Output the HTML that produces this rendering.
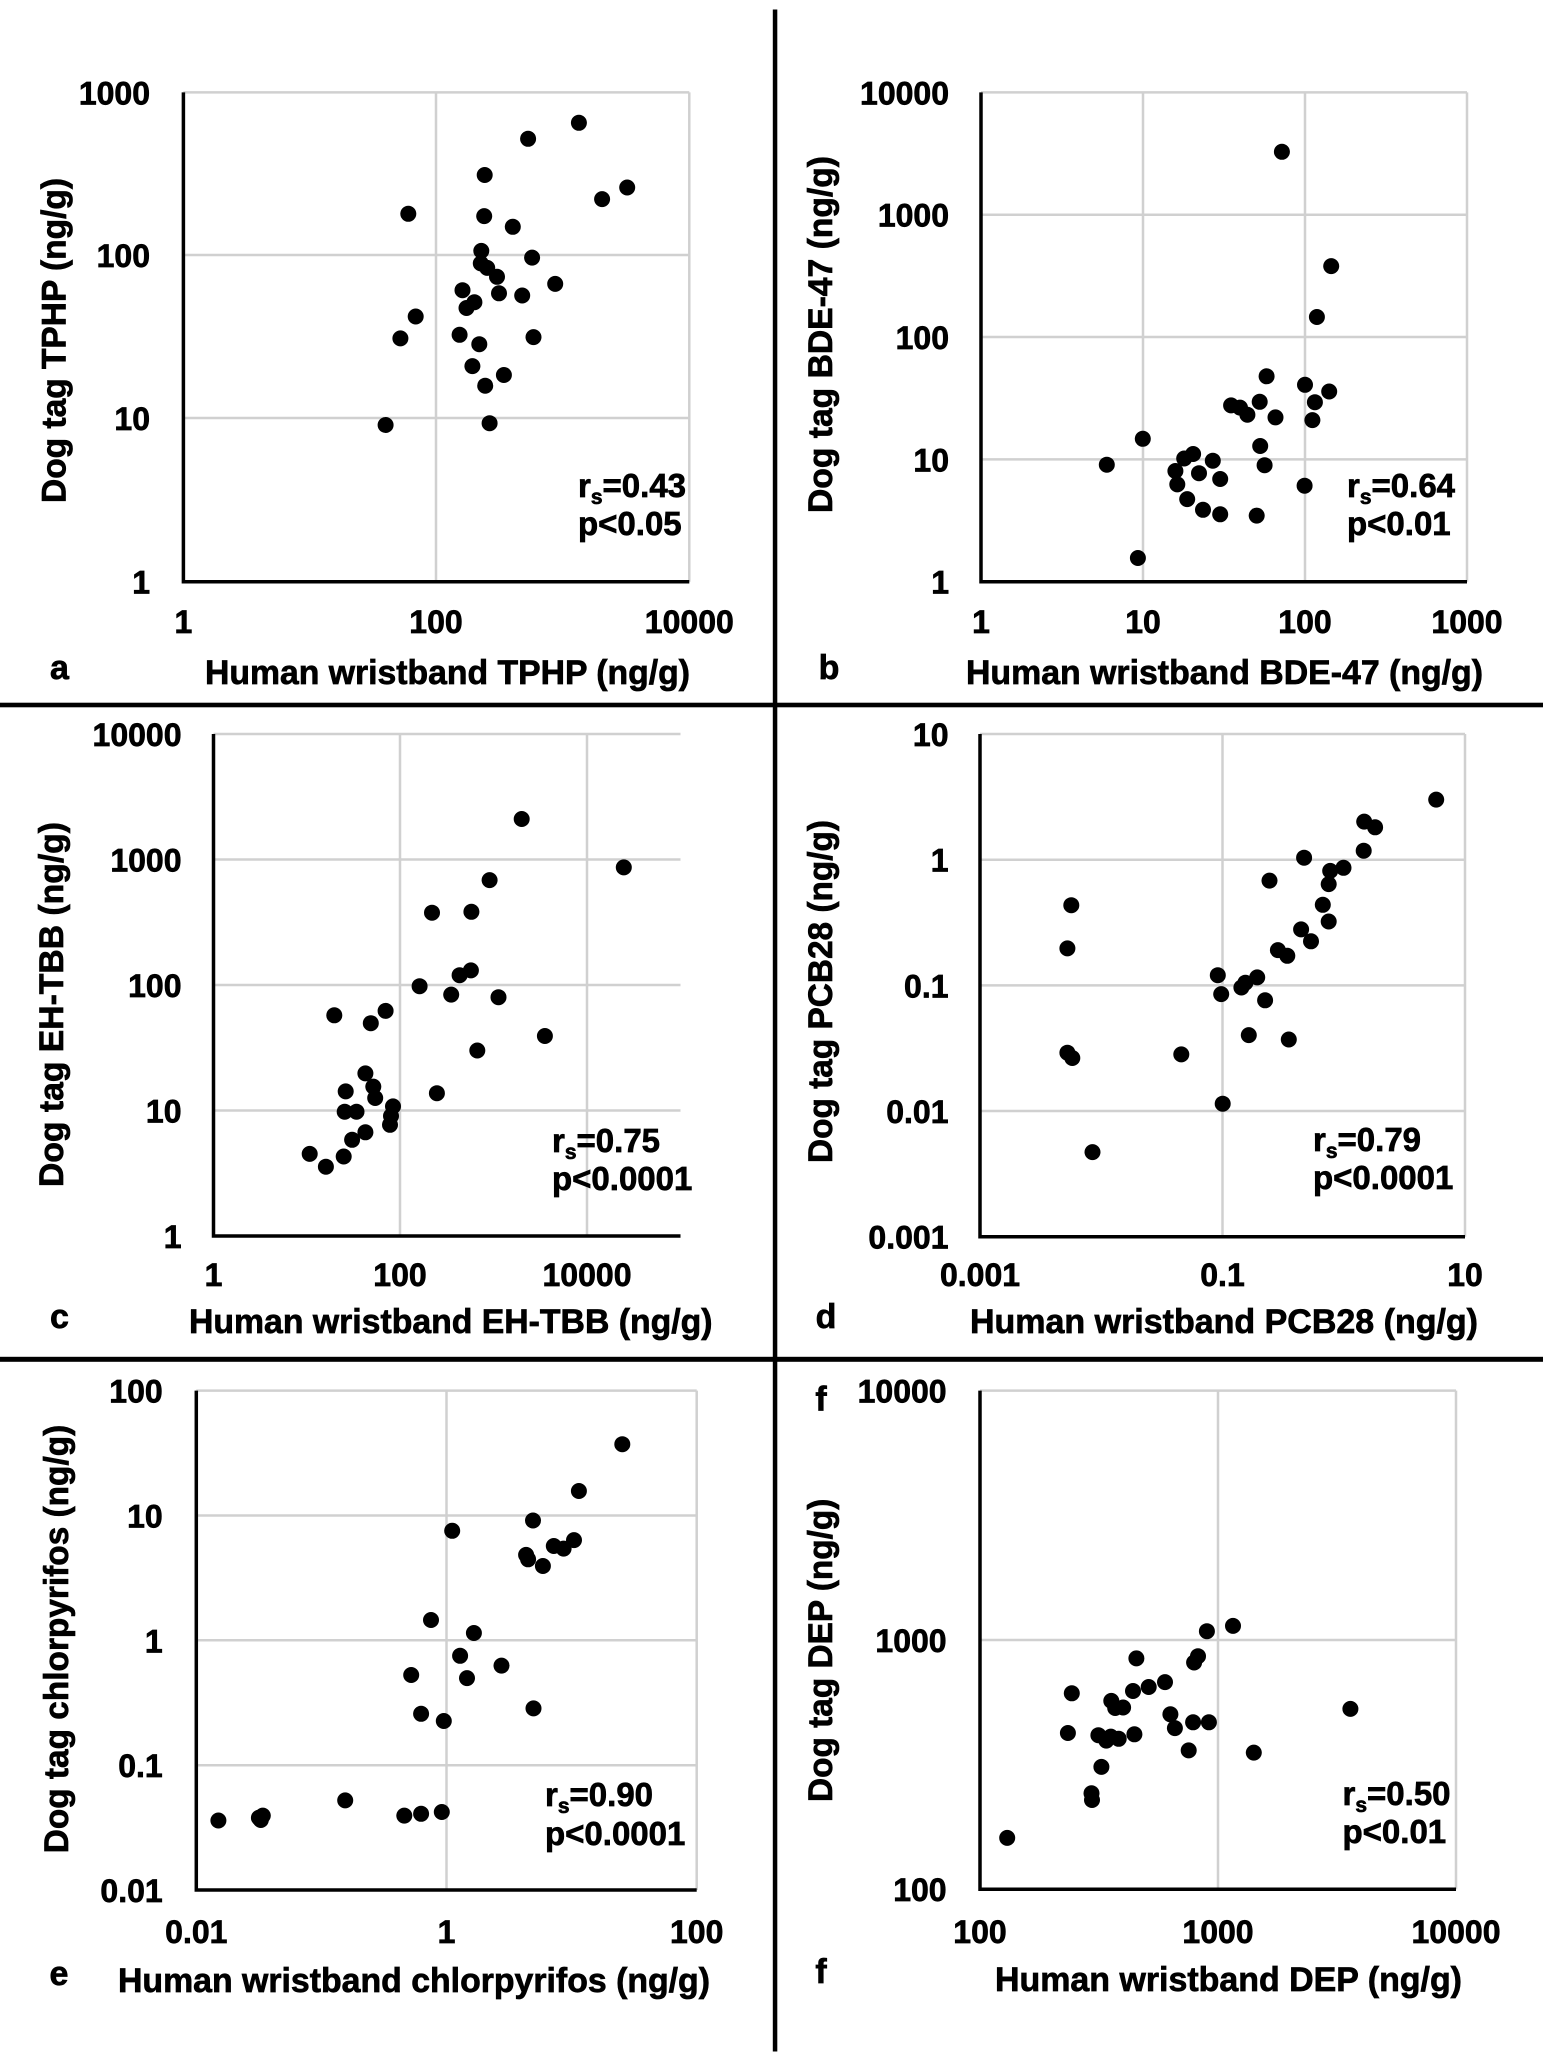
<!DOCTYPE html>
<html><head><meta charset="utf-8"><style>
html,body{margin:0;padding:0;background:#fff;}
svg{display:block;}
text{font-family:"Liberation Sans",Arial,sans-serif;font-weight:bold;fill:#000;stroke:#000;stroke-width:0.7px;}
.t{font-size:32px;stroke-width:0.8px;}
.ttl{font-size:34px;}
.rs{font-size:33px;}
.g{stroke:#d0d0d0;stroke-width:2.5;fill:none;}
.ax{stroke:#000;stroke-width:3.5;fill:none;}
circle{fill:#000;}
</style></head><body>
<svg width="1546" height="2058" viewBox="0 0 1546 2058" xmlns="http://www.w3.org/2000/svg">
<rect x="0" y="0" width="1546" height="2058" fill="#fff"/>

<!-- dividers -->
<rect x="772.8" y="9.5" width="4.5" height="2042" fill="#000"/>
<rect x="0" y="702.7" width="1543" height="4.6" fill="#000"/>
<rect x="0" y="1356.8" width="1543" height="5" fill="#000"/>

<!-- ================= Panel a ================= -->
<g>
<path class="g" d="M183.4 92.4H689.3 M183.4 255H689.3 M183.4 418H689.3 M436 92.4V581.7 M689.3 92.4V581.7"/>
<path class="ax" d="M183.4 92.4V583.4 M181.7 581.7H689.3"/>
<g class="t" text-anchor="end">
<text x="150" y="104.4">1000</text><text x="150" y="267">100</text><text x="150" y="430">10</text><text x="150" y="593.7">1</text>
</g>
<g class="t" text-anchor="middle">
<text x="183.4" y="633">1</text><text x="436" y="633">100</text><text x="689.3" y="633">10000</text>
</g>
<text class="ttl" x="59.5" y="679" text-anchor="middle">a</text>
<text class="ttl" x="205" y="684" textLength="485" lengthAdjust="spacingAndGlyphs">Human wristband TPHP (ng/g)</text>
<text class="ttl" transform="translate(65.5,340.5) rotate(-90)" text-anchor="middle" textLength="325" lengthAdjust="spacingAndGlyphs">Dog tag TPHP (ng/g)</text>
<text class="rs" x="578" y="497">r<tspan font-size="21" dy="7">s</tspan><tspan dy="-7">=0.43</tspan></text>
<text class="rs" x="578" y="535">p&lt;0.05</text>
<g>
<circle cx="578.9" cy="122.8" r="8"/><circle cx="528.1" cy="138.8" r="8"/><circle cx="484.7" cy="175" r="8"/>
<circle cx="627.2" cy="187.5" r="8"/><circle cx="602.1" cy="199.1" r="8"/><circle cx="408.3" cy="213.8" r="8"/>
<circle cx="484.2" cy="216.1" r="8"/><circle cx="512.8" cy="226.8" r="8"/><circle cx="481.3" cy="250.9" r="8"/>
<circle cx="532.1" cy="257.6" r="8"/><circle cx="480.8" cy="263.4" r="8"/><circle cx="487.2" cy="267.9" r="8"/>
<circle cx="497" cy="276.8" r="8"/><circle cx="555.2" cy="283.9" r="8"/><circle cx="462.5" cy="290.2" r="8"/>
<circle cx="499" cy="293.3" r="8"/><circle cx="522.2" cy="295.5" r="8"/><circle cx="474.4" cy="302.2" r="8"/>
<circle cx="466.5" cy="308" r="8"/><circle cx="415.7" cy="316.5" r="8"/><circle cx="400.4" cy="338.4" r="8"/>
<circle cx="459.6" cy="334.8" r="8"/><circle cx="533.5" cy="337.1" r="8"/><circle cx="479.3" cy="344.2" r="8"/>
<circle cx="472.4" cy="366.1" r="8"/><circle cx="503.9" cy="375" r="8"/><circle cx="485.2" cy="385.7" r="8"/>
<circle cx="385.6" cy="425" r="8"/><circle cx="489.6" cy="423.2" r="8"/>
</g>
</g>

<!-- ================= Panel b ================= -->
<g>
<path class="g" d="M981 92.4H1467 M981 214.7H1467 M981 337H1467 M981 459.4H1467 M1143 92.4V581.7 M1305 92.4V581.7 M1467 92.4V581.7"/>
<path class="ax" d="M981 92.4V583.4 M979.3 581.7H1467"/>
<g class="t" text-anchor="end">
<text x="949" y="104.4">10000</text><text x="949" y="226.7">1000</text><text x="949" y="349">100</text><text x="949" y="471.4">10</text><text x="949" y="593.7">1</text>
</g>
<g class="t" text-anchor="middle">
<text x="981" y="633">1</text><text x="1143" y="633">10</text><text x="1305" y="633">100</text><text x="1467" y="633">1000</text>
</g>
<text class="ttl" x="829" y="679" text-anchor="middle">b</text>
<text class="ttl" x="966" y="684" textLength="517" lengthAdjust="spacingAndGlyphs">Human wristband BDE-47 (ng/g)</text>
<text class="ttl" transform="translate(832,334.5) rotate(-90)" text-anchor="middle" textLength="357" lengthAdjust="spacingAndGlyphs">Dog tag BDE-47 (ng/g)</text>
<text class="rs" x="1347" y="497">r<tspan font-size="21" dy="7">s</tspan><tspan dy="-7">=0.64</tspan></text>
<text class="rs" x="1347" y="535">p&lt;0.01</text>
<g>
<circle cx="1281.9" cy="151.8" r="8"/><circle cx="1331.2" cy="266.1" r="8"/><circle cx="1316.9" cy="317" r="8"/>
<circle cx="1266.6" cy="376.3" r="8"/><circle cx="1305" cy="384.8" r="8"/><circle cx="1329.2" cy="391.5" r="8"/>
<circle cx="1231.1" cy="405.4" r="8"/><circle cx="1240" cy="407.6" r="8"/><circle cx="1247.4" cy="414.7" r="8"/>
<circle cx="1259.7" cy="401.8" r="8"/><circle cx="1314.9" cy="402.2" r="8"/><circle cx="1275.5" cy="417.4" r="8"/>
<circle cx="1312.4" cy="420.1" r="8"/><circle cx="1142.8" cy="438.8" r="8"/><circle cx="1260.2" cy="446" r="8"/>
<circle cx="1193.1" cy="454" r="8"/><circle cx="1184.2" cy="458.5" r="8"/><circle cx="1212.8" cy="460.7" r="8"/>
<circle cx="1106.8" cy="464.7" r="8"/><circle cx="1264.6" cy="465.2" r="8"/><circle cx="1175.4" cy="471" r="8"/>
<circle cx="1199" cy="473.2" r="8"/><circle cx="1220.2" cy="479" r="8"/><circle cx="1177.3" cy="484.4" r="8"/>
<circle cx="1304.6" cy="485.7" r="8"/><circle cx="1187.2" cy="499.1" r="8"/><circle cx="1203" cy="509.8" r="8"/>
<circle cx="1220.2" cy="514.3" r="8"/><circle cx="1256.7" cy="515.6" r="8"/><circle cx="1137.9" cy="558" r="8"/>
</g>
</g>

<!-- ================= Panel c ================= -->
<g>
<path class="g" d="M213.5 734H680.5 M213.5 859.5H680.5 M213.5 985H680.5 M213.5 1110.5H680.5 M400 734V1236 M587 734V1236"/>
<path class="ax" d="M213.5 734V1237.7 M211.8 1236H680.5"/>
<g class="t" text-anchor="end">
<text x="181.5" y="746">10000</text><text x="181.5" y="871.5">1000</text><text x="181.5" y="997">100</text><text x="181.5" y="1122.5">10</text><text x="181.5" y="1248">1</text>
</g>
<g class="t" text-anchor="middle">
<text x="213.5" y="1286">1</text><text x="400" y="1286">100</text><text x="587" y="1286">10000</text>
</g>
<text class="ttl" x="59.5" y="1328" text-anchor="middle">c</text>
<text class="ttl" x="189" y="1333" textLength="523.5" lengthAdjust="spacingAndGlyphs">Human wristband EH-TBB (ng/g)</text>
<text class="ttl" transform="translate(63,1004.5) rotate(-90)" text-anchor="middle" textLength="365" lengthAdjust="spacingAndGlyphs">Dog tag EH-TBB (ng/g)</text>
<text class="rs" x="552" y="1152">r<tspan font-size="21" dy="7">s</tspan><tspan dy="-7">=0.75</tspan></text>
<text class="rs" x="552" y="1190">p&lt;0.0001</text>
<g>
<circle cx="521.7" cy="819" r="8"/><circle cx="623.8" cy="867.4" r="8"/><circle cx="489.6" cy="880.1" r="8"/>
<circle cx="432" cy="912.7" r="8"/><circle cx="471.4" cy="911.8" r="8"/><circle cx="470.9" cy="970.4" r="8"/>
<circle cx="459.6" cy="975.2" r="8"/><circle cx="419.6" cy="986.2" r="8"/><circle cx="451.2" cy="994.6" r="8"/>
<circle cx="498.5" cy="997.2" r="8"/><circle cx="334.3" cy="1015.3" r="8"/><circle cx="385.6" cy="1010.9" r="8"/>
<circle cx="370.8" cy="1023.2" r="8"/><circle cx="544.9" cy="1036" r="8"/><circle cx="477.3" cy="1050.5" r="8"/>
<circle cx="365.4" cy="1073.4" r="8"/><circle cx="373.3" cy="1086.6" r="8"/><circle cx="375.2" cy="1098" r="8"/>
<circle cx="345.7" cy="1091.4" r="8"/><circle cx="436.9" cy="1093.2" r="8"/><circle cx="393" cy="1106.4" r="8"/>
<circle cx="356.5" cy="1111.7" r="8"/><circle cx="344.7" cy="1111.7" r="8"/><circle cx="391" cy="1116" r="8"/>
<circle cx="390" cy="1124.8" r="8"/><circle cx="365.4" cy="1132.3" r="8"/><circle cx="352.1" cy="1139.8" r="8"/>
<circle cx="309.7" cy="1153.9" r="8"/><circle cx="343.7" cy="1156.5" r="8"/><circle cx="325.9" cy="1166.7" r="8"/>
</g>
</g>

<!-- ================= Panel d ================= -->
<g>
<path class="g" d="M980 734H1465 M980 859.7H1465 M980 985.4H1465 M980 1111H1465 M1222.5 734V1236.7 M1465 734V1236.7"/>
<path class="ax" d="M980 734V1238.4 M978.3 1236.7H1465"/>
<g class="t" text-anchor="end">
<text x="948.5" y="746">10</text><text x="948.5" y="871.7">1</text><text x="948.5" y="997.4">0.1</text><text x="948.5" y="1123">0.01</text><text x="948.5" y="1248.7">0.001</text>
</g>
<g class="t" text-anchor="middle">
<text x="980" y="1286">0.001</text><text x="1222.5" y="1286">0.1</text><text x="1465" y="1286">10</text>
</g>
<text class="ttl" x="826" y="1328" text-anchor="middle">d</text>
<text class="ttl" x="970" y="1333" textLength="508" lengthAdjust="spacingAndGlyphs">Human wristband PCB28 (ng/g)</text>
<text class="ttl" transform="translate(832,991.5) rotate(-90)" text-anchor="middle" textLength="343" lengthAdjust="spacingAndGlyphs">Dog tag PCB28 (ng/g)</text>
<text class="rs" x="1313" y="1151">r<tspan font-size="21" dy="7">s</tspan><tspan dy="-7">=0.79</tspan></text>
<text class="rs" x="1313" y="1189">p&lt;0.0001</text>
<g>
<circle cx="1436.2" cy="799.6" r="8"/><circle cx="1364.2" cy="821.6" r="8"/><circle cx="1375.1" cy="827.3" r="8"/>
<circle cx="1363.7" cy="850.7" r="8"/><circle cx="1304.1" cy="857.7" r="8"/><circle cx="1343.5" cy="867.8" r="8"/>
<circle cx="1330.2" cy="870.9" r="8"/><circle cx="1269.5" cy="880.6" r="8"/><circle cx="1328.7" cy="884.1" r="8"/>
<circle cx="1071.3" cy="905.2" r="8"/><circle cx="1322.8" cy="904.8" r="8"/><circle cx="1328.7" cy="921.5" r="8"/>
<circle cx="1301.1" cy="929.4" r="8"/><circle cx="1311" cy="941.3" r="8"/><circle cx="1067.4" cy="948.4" r="8"/>
<circle cx="1277.9" cy="950.1" r="8"/><circle cx="1287.3" cy="955.8" r="8"/><circle cx="1217.8" cy="975.2" r="8"/>
<circle cx="1257.2" cy="977.4" r="8"/><circle cx="1245.4" cy="982.7" r="8"/><circle cx="1241.4" cy="987.5" r="8"/>
<circle cx="1221.2" cy="994.1" r="8"/><circle cx="1265.1" cy="1000.3" r="8"/><circle cx="1248.8" cy="1035.1" r="8"/>
<circle cx="1288.8" cy="1039.5" r="8"/><circle cx="1181.3" cy="1054.4" r="8"/><circle cx="1067.4" cy="1052.7" r="8"/>
<circle cx="1072.3" cy="1058" r="8"/><circle cx="1222.7" cy="1103.7" r="8"/><circle cx="1092.5" cy="1152.1" r="8"/>
</g>
</g>

<!-- ================= Panel e ================= -->
<g>
<path class="g" d="M196.3 1390.6H696.7 M196.3 1515.5H696.7 M196.3 1640.3H696.7 M196.3 1765.2H696.7 M446.5 1390.6V1890 M696.7 1390.6V1890"/>
<path class="ax" d="M196.3 1390.6V1891.7 M194.6 1890H696.7"/>
<g class="t" text-anchor="end">
<text x="162.7" y="1402.6">100</text><text x="162.7" y="1527.5">10</text><text x="162.7" y="1652.3">1</text><text x="162.7" y="1777.2">0.1</text><text x="162.7" y="1902">0.01</text>
</g>
<g class="t" text-anchor="middle">
<text x="196.3" y="1943">0.01</text><text x="446.5" y="1943">1</text><text x="696.7" y="1943">100</text>
</g>
<text class="ttl" x="59" y="1985" text-anchor="middle">e</text>
<text class="ttl" x="118" y="1992" textLength="592" lengthAdjust="spacingAndGlyphs">Human wristband chlorpyrifos (ng/g)</text>
<text class="ttl" transform="translate(68,1639) rotate(-90)" text-anchor="middle" textLength="428.5" lengthAdjust="spacingAndGlyphs">Dog tag chlorpyrifos (ng/g)</text>
<text class="rs" x="545" y="1806">r<tspan font-size="21" dy="7">s</tspan><tspan dy="-7">=0.90</tspan></text>
<text class="rs" x="545" y="1845">p&lt;0.0001</text>
<g>
<circle cx="622.3" cy="1444.2" r="8"/><circle cx="578.9" cy="1491" r="8"/><circle cx="533" cy="1520.5" r="8"/>
<circle cx="452.2" cy="1530.8" r="8"/><circle cx="574" cy="1540.1" r="8"/><circle cx="563.6" cy="1548.6" r="8"/>
<circle cx="553.8" cy="1546" r="8"/><circle cx="526.1" cy="1554.9" r="8"/><circle cx="528.1" cy="1559.3" r="8"/>
<circle cx="542.9" cy="1566" r="8"/><circle cx="431" cy="1620" r="8"/><circle cx="473.9" cy="1633" r="8"/>
<circle cx="460.1" cy="1655.8" r="8"/><circle cx="501.5" cy="1665.6" r="8"/><circle cx="411.2" cy="1675" r="8"/>
<circle cx="467" cy="1678.1" r="8"/><circle cx="533.5" cy="1708.4" r="8"/><circle cx="421.1" cy="1713.8" r="8"/>
<circle cx="443.8" cy="1721" r="8"/><circle cx="345.2" cy="1800.4" r="8"/><circle cx="218.4" cy="1820.5" r="8"/>
<circle cx="258.9" cy="1817.8" r="8"/><circle cx="262.8" cy="1815.6" r="8"/><circle cx="260.8" cy="1820" r="8"/>
<circle cx="404.3" cy="1815.6" r="8"/><circle cx="421.1" cy="1813.8" r="8"/><circle cx="441.8" cy="1812" r="8"/>
</g>
</g>

<!-- ================= Panel f ================= -->
<g>
<path class="g" d="M980 1390.6H1456 M980 1640H1456 M1218 1390.6V1889.2 M1456 1390.6V1889.2"/>
<path class="ax" d="M980 1390.6V1890.9 M978.3 1889.2H1456"/>
<g class="t" text-anchor="end">
<text x="946.6" y="1402.6">10000</text><text x="946.6" y="1652">1000</text><text x="946.6" y="1901.2">100</text>
</g>
<g class="t" text-anchor="middle">
<text x="980" y="1943">100</text><text x="1218" y="1943">1000</text><text x="1456" y="1943">10000</text>
</g>
<text class="ttl" x="821" y="1410.7" text-anchor="middle">f</text>
<text class="ttl" x="821" y="1983" text-anchor="middle">f</text>
<text class="ttl" x="995" y="1991" textLength="467" lengthAdjust="spacingAndGlyphs">Human wristband DEP (ng/g)</text>
<text class="ttl" transform="translate(832,1650.3) rotate(-90)" text-anchor="middle" textLength="303.4" lengthAdjust="spacingAndGlyphs">Dog tag DEP (ng/g)</text>
<text class="rs" x="1342.5" y="1805">r<tspan font-size="21" dy="7">s</tspan><tspan dy="-7">=0.50</tspan></text>
<text class="rs" x="1342.5" y="1843">p&lt;0.01</text>
<g>
<circle cx="1233" cy="1625.9" r="8"/><circle cx="1206.9" cy="1631.2" r="8"/><circle cx="1136.4" cy="1658.4" r="8"/>
<circle cx="1198" cy="1656.2" r="8"/><circle cx="1194.1" cy="1662.5" r="8"/><circle cx="1165" cy="1682.1" r="8"/>
<circle cx="1148.7" cy="1687" r="8"/><circle cx="1133" cy="1691" r="8"/><circle cx="1071.8" cy="1693.3" r="8"/>
<circle cx="1111.3" cy="1700.9" r="8"/><circle cx="1123.1" cy="1707.5" r="8"/><circle cx="1115.2" cy="1708" r="8"/>
<circle cx="1350.4" cy="1708.9" r="8"/><circle cx="1170.4" cy="1714.3" r="8"/><circle cx="1193.1" cy="1722.3" r="8"/>
<circle cx="1208.9" cy="1722.3" r="8"/><circle cx="1174.9" cy="1728.1" r="8"/><circle cx="1067.9" cy="1733" r="8"/>
<circle cx="1134.4" cy="1734.3" r="8"/><circle cx="1098.4" cy="1735.2" r="8"/><circle cx="1110.8" cy="1736.6" r="8"/>
<circle cx="1118.7" cy="1738.8" r="8"/><circle cx="1106.3" cy="1740.6" r="8"/><circle cx="1188.7" cy="1750.4" r="8"/>
<circle cx="1253.8" cy="1752.6" r="8"/><circle cx="1101.4" cy="1766.9" r="8"/><circle cx="1091.5" cy="1793.3" r="8"/>
<circle cx="1092" cy="1800" r="8"/><circle cx="1007.2" cy="1837.9" r="8"/>
</g>
</g>
</svg>
</body></html>
